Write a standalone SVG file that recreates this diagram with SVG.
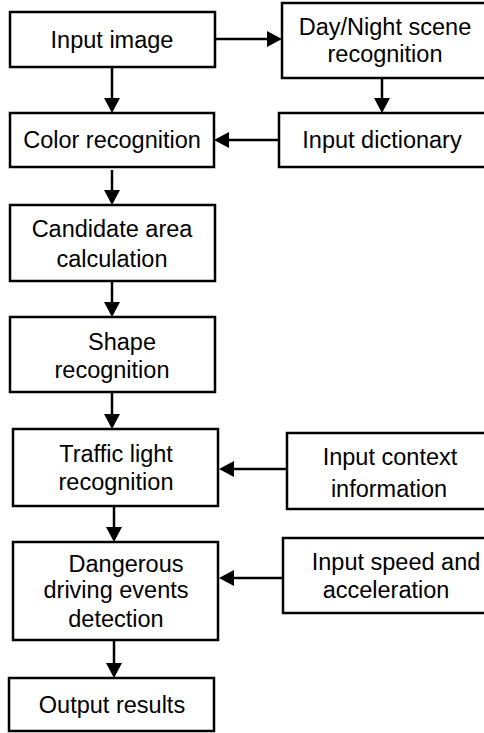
<svg xmlns="http://www.w3.org/2000/svg" width="484" height="733" viewBox="0 0 484 733">
<style>
.box{fill:#fff;stroke:#000;stroke-width:2.5}
text{font-family:"Liberation Sans",Arial,sans-serif;font-size:23.5px;fill:#000;text-anchor:middle}
.edge{stroke:#000;stroke-width:2.5;fill:none;marker-end:url(#ah)}
</style>
<defs>
<marker id="ah" markerUnits="userSpaceOnUse" markerWidth="15" markerHeight="16" refX="5" refY="8" orient="auto">
<path d="M0,0 L15,8 L0,16 z" fill="#000"/>
</marker>
</defs>
<rect width="484" height="733" fill="#fff"/>
<g id="connectors">
<line class="edge" x1="215" y1="39" x2="272" y2="39"/>
<line class="edge" x1="112" y1="67" x2="112" y2="103"/>
<line class="edge" x1="382" y1="78" x2="382" y2="103"/>
<line class="edge" x1="279" y1="140" x2="224" y2="140"/>
<line class="edge" x1="112" y1="170" x2="112" y2="195"/>
<line class="edge" x1="112" y1="281" x2="112" y2="307"/>
<line class="edge" x1="112" y1="393" x2="112" y2="419"/>
<line class="edge" x1="287" y1="469" x2="229" y2="469"/>
<line class="edge" x1="114" y1="506" x2="114" y2="532"/>
<line class="edge" x1="283" y1="578" x2="229" y2="578"/>
<line class="edge" x1="114" y1="640" x2="114" y2="668"/>
</g>
<g id="input-image"><rect class="box" x="10" y="12" width="205" height="55"/><text x="112" y="48">Input image</text></g>
<g id="day-night"><rect class="box" x="282" y="3" width="210" height="75"/><text x="385" y="35">Day/Night scene</text><text x="385" y="62">recognition</text></g>
<g id="color-recognition"><rect class="box" x="10" y="113" width="204" height="54"/><text x="112" y="148">Color recognition</text></g>
<g id="input-dictionary"><rect class="box" x="279" y="113" width="214" height="54"/><text x="382" y="148">Input dictionary</text></g>
<g id="candidate-area"><rect class="box" x="10" y="205" width="205" height="76"/><text x="112" y="237">Candidate area</text><text x="112" y="267">calculation</text></g>
<g id="shape-recognition"><rect class="box" x="10" y="317" width="205" height="75"/><text x="122" y="350">Shape</text><text x="112" y="378">recognition</text></g>
<g id="traffic-light"><rect class="box" x="13" y="429" width="205" height="77"/><text x="116" y="462">Traffic light</text><text x="116" y="490">recognition</text></g>
<g id="input-context"><rect class="box" x="287" y="433" width="206" height="76"/><text x="390" y="465">Input context</text><text x="389" y="497">information</text></g>
<g id="dangerous-driving"><rect class="box" x="13" y="542" width="205" height="98"/><text x="126" y="572">Dangerous</text><text x="116" y="598">driving events</text><text x="116" y="627">detection</text></g>
<g id="input-speed"><rect class="box" x="283" y="538" width="210" height="75"/><text x="396" y="570">Input speed and</text><text x="386" y="598">acceleration</text></g>
<g id="output-results"><rect class="box" x="9" y="678" width="205" height="53"/><text x="112" y="713">Output results</text></g>
</svg>
